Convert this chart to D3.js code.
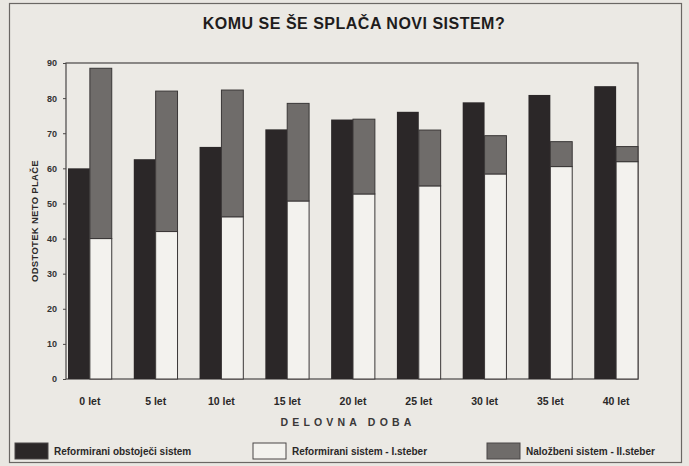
<!DOCTYPE html>
<html>
<head>
<meta charset="utf-8">
<script src="https://cdn.jsdelivr.net/npm/d3@7"></script>
<style>
  body { margin: 0; background: #e9e7e2; }
  svg { display: block; font-family: "Liberation Sans", Arial, sans-serif; }
</style>
</head>
<body>
<script>
// delovna doba
var categories = ["0 let", "5 let", "10 let", "15 let", "20 let", "25 let", "30 let", "35 let", "40 let"];
// Reformirani obstoječi sistem
var obstojeci = [60, 62.6, 66.1, 71.1, 73.9, 76.1, 78.8, 80.9, 83.4];
// Reformirani sistem - I.steber
var steber1 = [40, 42, 46.2, 50.7, 52.7, 55, 58.4, 60.5, 61.9];
// Naložbeni sistem - II.steber (dodatek nad I.stebrom)
var steber2 = [48.5, 40, 36.1, 27.8, 21.3, 15.9, 10.9, 7.1, 4.3];
var yTicks = [0, 10, 20, 30, 40, 50, 60, 70, 80, 90];
var legendLabels = ["Reformirani obstoječi sistem", "Reformirani sistem - I.steber", "Naložbeni sistem - II.steber"];

var width = 689, height = 466;
var colBlack = "#2b2728", colWhite = "#f3f2ee", colGray = "#6f6c6a";

var svg = d3.select("body").append("svg")
    .attr("width", width)
    .attr("height", height);

// okvir
svg.append("rect")
    .attr("x", 9.5).attr("y", 3.5)
    .attr("width", 672).attr("height", 459)
    .attr("fill", "#ebe9e4")
    .attr("stroke", "#6a6764").attr("stroke-width", 1.2);

svg.append("text")
    .attr("x", 354).attr("y", 29)
    .attr("text-anchor", "middle")
    .style("font-size", "16px").style("font-weight", "bold")
    .style("letter-spacing", "0.5px")
    .attr("fill", "#1e1c1c")
    .text("KOMU SE ŠE SPLAČA NOVI SISTEM?");

var plot = {left: 66, right: 638, top: 63, bottom: 379};

var x0 = d3.scaleBand()
    .domain(categories)
    .range([plot.left + 2, plot.right])
    .paddingInner(0.335)
    .paddingOuter(0);

var x1 = d3.scaleBand()
    .domain(["a", "b"])
    .range([0, x0.bandwidth()]);

var y = d3.scaleLinear()
    .domain([0, 90])
    .range([plot.bottom, plot.top]);

// okvir grafa
svg.append("rect")
    .attr("x", plot.left).attr("y", plot.top)
    .attr("width", plot.right - plot.left).attr("height", plot.bottom - plot.top)
    .attr("fill", "#eceae5")
    .attr("stroke", "#4a4746").attr("stroke-width", 1.2);

var rows = categories.map(function (c, i) {
    return {cat: c, obst: obstojeci[i], s1: steber1[i], s2: steber2[i]};
});

var stacked = d3.stack().keys(["s1", "s2"])(rows);

var groups = svg.selectAll("g.grp")
    .data(rows)
    .enter().append("g")
    .attr("class", "grp")
    .attr("transform", function (d) { return "translate(" + x0(d.cat) + ",0)"; });

groups.append("rect")
    .attr("x", x1("a"))
    .attr("y", function (d) { return y(d.obst); })
    .attr("width", x1.bandwidth())
    .attr("height", function (d) { return y(0) - y(d.obst); })
    .attr("fill", colBlack);

svg.selectAll("g.layer")
    .data(stacked)
    .enter().append("g")
    .attr("class", "layer")
    .attr("fill", function (d) { return d.key === "s1" ? colWhite : colGray; })
    .selectAll("rect")
    .data(function (d) { return d; })
    .enter().append("rect")
    .attr("x", function (d) { return x0(d.data.cat) + x1("b"); })
    .attr("y", function (d) { return y(d[1]); })
    .attr("width", x1.bandwidth())
    .attr("height", function (d) { return y(d[0]) - y(d[1]); })
    .attr("stroke", "#3a3737").attr("stroke-width", 1);

// osi
var yAxis = d3.axisLeft(y).tickValues(yTicks).tickSize(3).tickPadding(6);
var gy = svg.append("g")
    .attr("transform", "translate(" + plot.left + ",0)")
    .call(yAxis);
gy.select(".domain").remove();
gy.selectAll("line").attr("stroke", "#4a4746");
gy.selectAll("text")
    .style("font-size", "9px").style("font-weight", "bold")
    .attr("fill", "#333");

var xAxis = d3.axisBottom(x0).tickSize(0).tickPadding(19);
var gx = svg.append("g")
    .attr("transform", "translate(0," + plot.bottom + ")")
    .call(xAxis);
gx.select(".domain").remove();
gx.selectAll("text")
    .style("font-size", "10.5px").style("font-weight", "bold")
    .attr("fill", "#2a2828");

svg.append("text")
    .attr("transform", "translate(38," + ((plot.top + plot.bottom) / 2 + 0) + ") rotate(-90)")
    .attr("text-anchor", "middle")
    .style("font-size", "9.5px").style("font-weight", "bold")
    .style("letter-spacing", "0.3px")
    .attr("fill", "#2a2828")
    .text("ODSTOTEK NETO PLAČE");

svg.append("text")
    .attr("x", 348).attr("y", 426)
    .attr("text-anchor", "middle")
    .style("font-size", "10.5px").style("font-weight", "bold")
    .style("letter-spacing", "4.2px")
    .attr("fill", "#3a3838")
    .text("DELOVNA DOBA");

// legenda
var legendX = [15, 253, 487];
var legendFill = [colBlack, colWhite, colGray];
var lg = svg.selectAll("g.leg")
    .data(legendLabels)
    .enter().append("g")
    .attr("class", "leg")
    .attr("transform", function (d, i) { return "translate(" + legendX[i] + ",443)"; });

lg.append("rect")
    .attr("width", 33).attr("height", 16)
    .attr("fill", function (d, i) { return legendFill[i]; })
    .attr("stroke", "#4a4746").attr("stroke-width", 1);

lg.append("text")
    .attr("x", 39).attr("y", 12)
    .style("font-size", "10px").style("font-weight", "bold")
    .attr("fill", "#2a2828")
    .text(function (d) { return d; });
</script>
</body>
</html>
